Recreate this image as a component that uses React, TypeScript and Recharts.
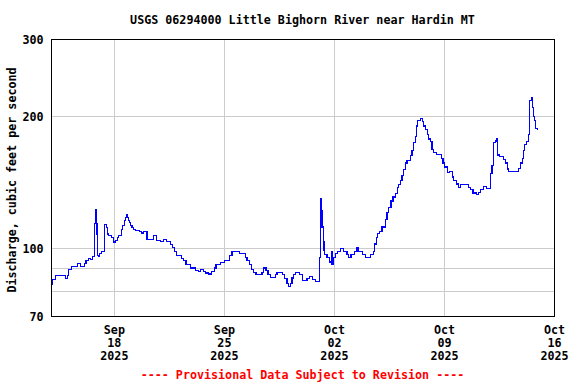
import React from 'react';
import { LineChart, Line, XAxis, YAxis, CartesianGrid, ReferenceArea } from 'recharts';

// days since 2025-09-14 00:00
const dayOffsets = [
  0.01, 0.08, 0.24, 0.87, 1.03, 1.09, 1.25, 1.67, 1.87, 2.10, 2.19, 2.36, 2.46, 2.59, 2.74, 2.80, 2.85, 2.89, 2.94, 2.99,
  3.06, 3.16, 3.37, 3.48, 3.55, 3.63, 3.84, 3.95, 4.05, 4.18, 4.26, 4.44, 4.52, 4.63, 4.69, 4.76, 4.84, 4.90, 4.97, 5.05,
  5.12, 5.22, 5.33, 5.58, 5.71, 5.84, 6.07, 6.49, 6.66, 6.92, 7.11, 7.30, 7.56, 7.68, 7.81, 7.94, 8.26, 8.40, 8.56, 8.83,
  9.15, 9.34, 9.47, 9.68, 9.78, 9.97, 10.17, 10.38, 10.46, 10.74, 11.01, 11.31, 11.48, 11.59, 11.95, 12.33, 12.44, 12.58, 12.71, 12.86,
  13.01, 13.39, 13.49, 13.65, 13.77, 13.92, 14.24, 14.35, 14.70, 14.83, 14.98, 15.09, 15.19, 15.30, 15.40, 15.51, 15.77, 15.98, 16.26, 16.40,
  16.61, 16.79, 17.06, 17.10, 17.17, 17.21, 17.28, 17.33, 17.36, 17.53, 17.70, 17.79, 17.85, 17.95, 18.06, 18.21, 18.38, 18.59, 18.80, 18.91,
  19.06, 19.27, 19.44, 19.54, 19.76, 19.97, 20.29, 20.46, 20.56, 20.67, 20.75, 20.88, 21.03, 21.24, 21.35, 21.45, 21.60, 21.73, 21.88, 21.99,
  22.09, 22.20, 22.30, 22.41, 22.51, 22.62, 22.83, 22.94, 23.04, 23.15, 23.21, 23.30, 23.47, 23.58, 23.68, 23.79, 23.90, 24.00, 24.11, 24.21,
  24.32, 24.49, 24.79, 24.91, 25.02, 25.17, 25.32, 25.49, 25.59, 25.74, 25.87, 26.02, 26.54, 26.65, 26.82, 27.03, 27.18, 27.29, 27.46, 27.67,
  27.93, 28.03, 28.10, 28.24, 28.31, 28.39, 28.52, 28.77, 28.88, 28.99, 29.09, 29.73, 29.84, 29.94, 30.01, 30.09, 30.22, 30.33, 30.39, 30.43,
  30.52, 30.58, 30.64, 30.73, 30.81, 30.94,
];

// discharge, cubic feet per second
const discharge = [
  83, 85, 87, 85.5, 87, 89.5, 91, 92.5, 91, 92.5, 94, 95, 94.5, 96, 114, 122.5, 114, 108, 96.5, 96,
  97.5, 98.3, 113.5, 111.7, 108, 107.2, 105.8, 103.5, 104.5, 105.8, 107.2, 110.5, 113, 116, 118, 119.6, 118, 116, 114.5, 113,
  111.7, 110.5, 109.8, 109.2, 108.5, 109.5, 105, 107, 104.5, 104, 105, 104, 102.2, 100.6, 98.3, 96.5, 95, 93.8, 92, 90.3,
  89, 88.5, 89.5, 88.5, 88, 87.5, 88.5, 90.3, 92, 93, 93.8, 96.6, 98.4, 98.7, 97.4, 95.5, 93.8, 91.8, 89.7, 88.3,
  87.3, 88.3, 90.3, 89.3, 87.3, 86, 87.3, 88.3, 87.3, 85.3, 83.4, 81.9, 83.4, 85.7, 87.3, 88.3, 87.3, 84.5, 85.5, 86.3,
  85, 84, 95.5, 130, 122, 112, 104, 99, 97, 95.5, 93.2, 98.6, 91.8, 95.5, 97.3, 98.6, 100, 98.6, 97, 95.5,
  97, 98.6, 100.3, 98.6, 97, 95.5, 97, 98.6, 102.4, 106, 108.2, 109.6, 112, 116.3, 121, 124.2, 128.4, 131.2, 133.5, 138,
  140, 143, 147, 151.4, 156.8, 158.8, 162.9, 167.6, 174.7, 180.5, 190.5, 195.8, 198, 194.6, 190.5, 186.8, 182, 177.9, 175.4, 168.5,
  165.8, 164.2, 160.7, 156.8, 153.5, 149, 150, 145.7, 143.3, 140.4, 138, 140, 138, 136.3, 134, 133, 134.4, 136.7, 138.7, 137,
  148.6, 155, 174.7, 176, 178.5, 163.5, 162.3, 160, 156.8, 152, 150, 152.5, 156.8, 160.7, 167.6, 172.6, 175.4, 182, 202.4, 218,
  221.6, 210, 200, 195.8, 188, 186,
];

const xTickDays = [4, 11, 18, 25, 32];
const xTickMonths = ['Sep', 'Sep', 'Oct', 'Oct', 'Oct'];
const xTickDates = ['18', '25', '02', '09', '16'];
const xTickYears = ['2025', '2025', '2025', '2025', '2025'];

const yTicks = [70, 80, 90, 100, 200, 300];
const yLabeled = [70, 100, 200, 300];

const chartTitle = 'USGS 06294000 Little Bighorn River near Hardin MT';
const yTitle = 'Discharge, cubic feet per second';
const footer = '---- Provisional Data Subject to Revision ----';

const data = dayOffsets.map((t, i) => ({ t, q: discharge[i] }));

const FONT = '"DejaVu Sans Mono", "Liberation Mono", monospace';
const FS = 11.7;

const XTick = (props: any) => {
  const { x, payload } = props;
  const i = xTickDays.indexOf(payload.value);
  if (i < 0) return null;
  return (
    <g>
      <text x={x} y={334} textAnchor="middle" fontFamily={FONT} fontWeight="bold" fontSize={FS} fill="#000">{xTickMonths[i]}</text>
      <text x={x} y={347} textAnchor="middle" fontFamily={FONT} fontWeight="bold" fontSize={FS} fill="#000">{xTickDates[i]}</text>
      <text x={x} y={360} textAnchor="middle" fontFamily={FONT} fontWeight="bold" fontSize={FS} fill="#000">{xTickYears[i]}</text>
    </g>
  );
};

export default function App() {
  return (
    <div style={{ position: 'absolute', left: 0, top: 0, width: 576, height: 384, background: '#fff' }}>
      <LineChart
        width={576}
        height={384}
        data={data}
        margin={{ top: 39.5, right: 21.5, bottom: 17.5, left: 0 }}
      >
        <CartesianGrid stroke="#cccccc" strokeWidth={1} shapeRendering="crispEdges" />
        <XAxis
          dataKey="t"
          type="number"
          domain={[0, 32]}
          ticks={xTickDays}
          interval={0}
          axisLine={false}
          tickLine={false}
          height={50}
          tick={<XTick />}
          allowDataOverflow
        />
        <YAxis
          scale="log"
          type="number"
          domain={[70, 300]}
          ticks={yTicks}
          interval={0}
          allowDataOverflow
          axisLine={false}
          tickLine={false}
          tickSize={6}
          tickMargin={2}
          width={51.5}
          tickFormatter={(v: number) => (yLabeled.includes(v) ? String(v) : '')}
          tick={{ fontFamily: FONT, fontWeight: 'bold', fontSize: FS, fill: '#000' }}
        />
        <Line
          type="stepAfter"
          dataKey="q"
          stroke="#0000ff"
          strokeWidth={1.2}
          shapeRendering="crispEdges"
          dot={false}
          activeDot={false}
          isAnimationActive={false}
        />
        <ReferenceArea x1={0} x2={32} y1={70} y2={300} fill="none" stroke="#000" strokeWidth={1.2} shapeRendering="crispEdges" ifOverflow="visible" />
      </LineChart>
      <svg width={576} height={384} style={{ position: 'absolute', left: 0, top: 0, pointerEvents: 'none' }}>
        <text x={302.5} y={24} textAnchor="middle" fontFamily={FONT} fontWeight="bold" fontSize={FS} fill="#000">{chartTitle}</text>
        <text x={16} y={180} transform="rotate(-90 16 180)" textAnchor="middle" fontFamily={FONT} fontWeight="bold" fontSize={FS} fill="#000">{yTitle}</text>
        <text x={302.5} y={378.5} textAnchor="middle" fontFamily={FONT} fontWeight="bold" fontSize={FS} fill="#ff0000">{footer}</text>
      </svg>
    </div>
  );
}
